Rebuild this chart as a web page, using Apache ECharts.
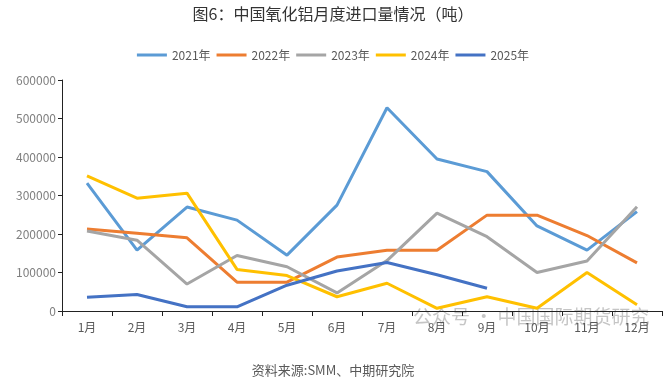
<!DOCTYPE html>
<html><head><meta charset="utf-8">
<script src="https://cdn.jsdelivr.net/npm/echarts@6/dist/echarts.min.js"></script>
<style>html,body{margin:0;padding:0;background:#fff}#c{width:666px;height:386px}</style>
</head><body><div id="c"></div>
<script>
const categories = ['1月','2月','3月','4月','5月','6月','7月','8月','9月','10月','11月','12月'];
const y2021 = [332000,158000,270000,236000,145000,275000,528000,395000,362000,221000,158000,258000];
const y2022 = [213000,202000,190000,75000,75000,140000,158000,158000,249000,249000,196000,125000];
const y2023 = [208000,184000,70000,144000,115000,47000,131000,254000,193000,100000,130000,271000];
const y2024 = [351000,293000,306000,108000,92000,37000,72000,7000,37000,7000,100000,16000];
const y2025 = [36000,43000,11000,11000,67000,104000,126000,94000,59000];
const seriesNames = ['2021年','2022年','2023年','2024年','2025年'];
const colors = ['#5B9BD5','#ED7D31','#A5A5A5','#FFC000','#4472C4'];
const dataSets = [y2021,y2022,y2023,y2024,y2025];
const font = '"Noto Sans CJK SC","Noto Sans",sans-serif';
const chart = echarts.init(document.getElementById('c'));
chart.setOption({
  animation:false,
  textStyle:{fontFamily:font},
  title:{text:'图6：中国氧化铝月度进口量情况（吨）',left:'center',top:1,textStyle:{fontSize:16,fontWeight:'normal',color:'#333',fontFamily:font}},
  legend:{top:44,left:'center',itemWidth:30,itemHeight:3,itemGap:6,icon:'rect',textStyle:{fontSize:12,color:'#595959',fontFamily:font},data:seriesNames},
  grid:{left:62,right:4,top:80,bottom:75},
  xAxis:{type:'category',data:categories,boundaryGap:true,
    axisLine:{lineStyle:{color:'#222',width:1}},
    axisTick:{show:true,length:5,lineStyle:{color:'#222'}},
    axisLabel:{color:'#595959',fontSize:12,margin:10,fontFamily:font}},
  yAxis:{type:'value',min:0,max:600000,interval:100000,
    axisLine:{show:true,lineStyle:{color:'#222'}},
    axisTick:{show:true,length:4,lineStyle:{color:'#222'}},
    splitLine:{show:false},
    axisLabel:{color:'#7f7f7f',fontSize:12,margin:6,fontFamily:font,formatter:v=>String(v)}},
  graphic:[
    {type:'text',left:'center',top:364,style:{text:'资料来源:SMM、中期研究院',fill:'#595959',font:'13px '+font}},
    {type:'text',left:413,top:307,style:{text:'公众号 · 中国国际期货研究',fill:'rgba(150,150,150,0.55)',font:'19px '+font}}
  ],
  series: dataSets.map((d,i)=>({name:seriesNames[i],type:'line',data:d,showSymbol:false,symbol:'none',
    lineStyle:{width:3,color:colors[i]},itemStyle:{color:colors[i]}}))
});
</script></body></html>
